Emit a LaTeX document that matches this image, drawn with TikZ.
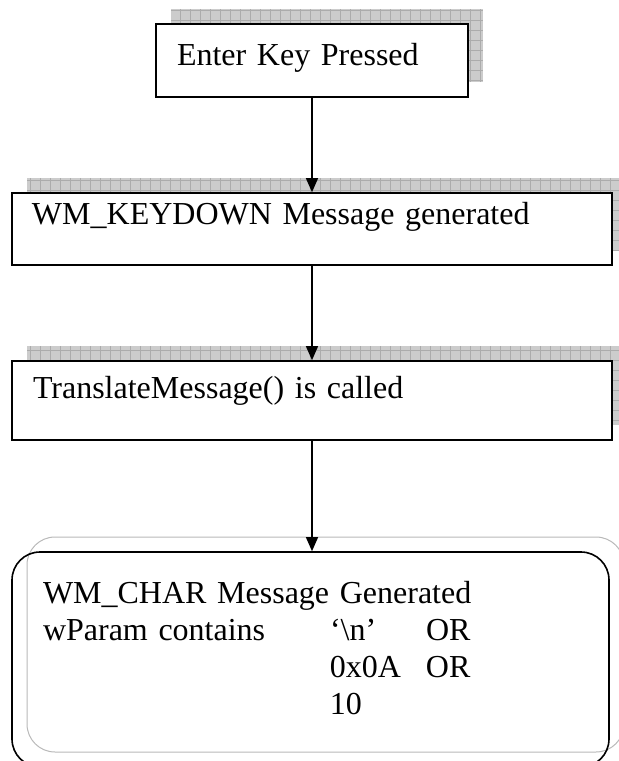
\documentclass[tikz,border=0pt]{standalone}
\usepackage{fontspec}
\setmainfont{Liberation Serif}
\usetikzlibrary{arrows.meta}

\begin{document}
\begin{tikzpicture}[x=0.5pt,y=-0.5pt,
  box/.style={draw=black,line width=0.8pt,fill=white,inner ysep=0pt,align=left,font=\fontsize{16}{18.5}\selectfont},
  shade/.style={fill=gray!40},
  gridline/.style={gray!65,line width=0.3pt},
  arr/.style={line width=0.6pt,-{Triangle[length=7pt,width=6pt]}}]
\clip (0,0) rectangle (619,761);
% shadows behind the boxes
\fill[shade] (171,9) rectangle (483,82);
\draw[gridline,step=5pt] (171,82) grid (483,9);
\fill[shade] (27,178) rectangle (627,250);
\draw[gridline,step=5pt] (27,250) grid (627,178);
\fill[shade] (27,346) rectangle (627,425);
\draw[gridline,step=5pt] (27,425) grid (627,346);
\draw[gray!55,line width=0.5pt,rounded corners=14pt] (27,537) rectangle (624,752);

\node[box,inner xsep=10.5pt,text width=135pt,text height=20.5pt,text depth=16pt] (B1) at (312,60.5) {Enter Key Pressed};
\node[box,inner xsep=10pt,text width=280pt,text height=15.5pt,text depth=20.5pt] (B2) at (312,229) {WM\_KEYDOWN Message generated};
\node[box,inner xsep=10.5pt,text width=279pt,text height=18.5pt,text depth=21pt] (B3) at (312,400.5) {TranslateMessage() is called};
\node[box,fill=none,rounded corners=14pt,inner xsep=15.5pt,text width=267.5pt,text height=25.5pt,text depth=82pt] (B4) at (310.5,659.5) {WM\_CHAR Message Generated\\
\makebox[143.5pt][l]{wParam contains}\makebox[48pt][l]{‘\textbackslash n’}OR\\
\hspace*{143.5pt}\makebox[48pt][l]{0x0A}OR\\
\hspace*{143.5pt}10};

\draw[arr] (B1)--(B2);
\draw[arr] (B2)--(B3);
\draw[arr] (B3)--(B3 |- B4.north);
\end{tikzpicture}
\end{document}
